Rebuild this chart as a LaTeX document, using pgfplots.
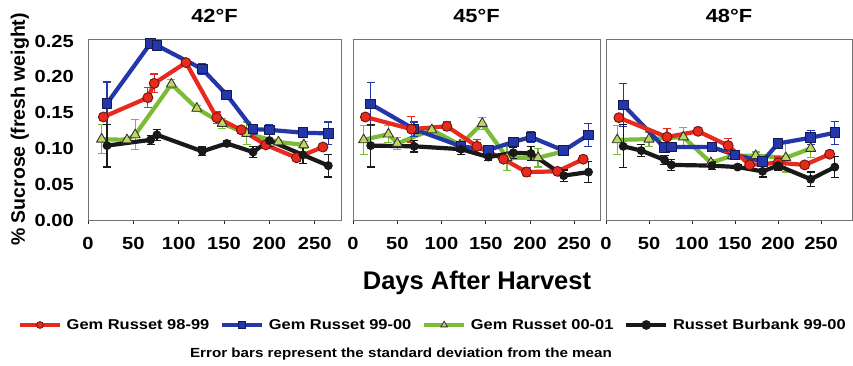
\documentclass[border=0pt]{standalone}
\usepackage{pgfplots}
\usepackage{pgfplotstable}
\pgfplotsset{compat=1.18}
\usepackage{fontspec}
\setmainfont{Liberation Sans}
\newfontfamily\wfont[FakeStretch=1.15]{Liberation Sans}

\definecolor{cRed}{RGB}{232,42,30}
\definecolor{cRedD}{RGB}{110,20,10}
\definecolor{cBlue}{RGB}{35,55,170}
\definecolor{cBlueD}{RGB}{20,25,80}
\definecolor{cGreen}{RGB}{122,188,52}
\definecolor{cGreenF}{RGB}{190,215,95}
\definecolor{cBlack}{RGB}{25,25,25}

% Panel 42F
\pgfplotstableread[row sep=\\]{x y e\\ 17 0.144 0.005\\ 66 0.171 0.014\\ 73 0.191 0.013\\ 108 0.220 0.004\\ 142 0.143 0.008\\ 169 0.126 0.005\\ 196 0.105 0.005\\ 230 0.087 0.005\\ 259 0.102 0.004\\}\aR
\pgfplotstableread[row sep=\\]{x y e\\ 21 0.163 0.030\\ 69 0.247 0.003\\ 76 0.244 0.003\\ 126 0.211 0.007\\ 153 0.175 0.004\\ 182 0.127 0.007\\ 200 0.126 0.007\\ 237 0.122 0.007\\ 265 0.121 0.016\\}\aB
\pgfplotstableread[row sep=\\]{x y e\\ 15 0.113 0.020\\ 43 0.112 0.003\\ 52 0.119 0.021\\ 92 0.190 0.006\\ 120 0.156 0.004\\ 148 0.135 0.007\\ 175 0.121 0.016\\ 210 0.109 0.004\\ 238 0.105 0.005\\}\aG
\pgfplotstableread[row sep=\\]{x y e\\ 21 0.104 0.030\\ 69 0.112 0.006\\ 76 0.119 0.008\\ 126 0.096 0.006\\ 153 0.107 0.004\\ 182 0.095 0.008\\ 200 0.111 0.008\\ 237 0.091 0.012\\ 265 0.076 0.016\\}\aK
% Panel 45F
\pgfplotstableread[row sep=\\]{x y e\\ 14 0.144 0.005\\ 66 0.127 0.018\\ 106 0.131 0.006\\ 140 0.103 0.010\\ 170 0.085 0.005\\ 196 0.067 0.006\\ 231 0.068 0.005\\ 260 0.085 0.005\\}\bR
\pgfplotstableread[row sep=\\]{x y e\\ 20 0.162 0.030\\ 69 0.127 0.010\\ 122 0.103 0.005\\ 153 0.098 0.005\\ 181 0.109 0.006\\ 201 0.116 0.008\\ 238 0.097 0.007\\ 266 0.119 0.016\\}\bB
\pgfplotstableread[row sep=\\]{x y e\\ 12 0.112 0.020\\ 40 0.120 0.012\\ 50 0.107 0.008\\ 89 0.126 0.005\\ 121 0.105 0.004\\ 146 0.135 0.008\\ 174 0.087 0.018\\ 209 0.087 0.013\\ 238 0.096 0.005\\}\bG
\pgfplotstableread[row sep=\\]{x y e\\ 20 0.104 0.030\\ 69 0.103 0.008\\ 122 0.099 0.008\\ 153 0.088 0.005\\ 181 0.094 0.008\\ 201 0.093 0.010\\ 238 0.062 0.008\\ 266 0.067 0.015\\}\bK
% Panel 48F
\pgfplotstableread[row sep=\\]{x y e\\ 15 0.143 0.005\\ 71 0.116 0.012\\ 107 0.124 0.005\\ 142 0.104 0.010\\ 167 0.077 0.005\\ 200 0.080 0.008\\ 231 0.077 0.005\\ 260 0.092 0.005\\}\cR
\pgfplotstableread[row sep=\\]{x y e\\ 20 0.161 0.030\\ 68 0.101 0.005\\ 76 0.102 0.005\\ 123 0.102 0.005\\ 150 0.091 0.004\\ 182 0.082 0.006\\ 200 0.107 0.006\\ 238 0.115 0.010\\ 266 0.122 0.016\\}\cB
\pgfplotstableread[row sep=\\]{x y e\\ 13 0.112 0.020\\ 50 0.113 0.010\\ 90 0.116 0.013\\ 122 0.080 0.004\\ 147 0.090 0.005\\ 174 0.090 0.005\\ 209 0.087 0.020\\ 238 0.100 0.013\\}\cG
\pgfplotstableread[row sep=\\]{x y e\\ 20 0.103 0.030\\ 41 0.097 0.008\\ 68 0.084 0.006\\ 76 0.077 0.008\\ 123 0.076 0.005\\ 153 0.074 0.003\\ 182 0.068 0.008\\ 200 0.076 0.006\\ 238 0.057 0.010\\ 266 0.074 0.015\\}\cK

\pgfplotsset{
  panel/.style={
    scale only axis, height=181pt, ymin=0, ymax=0.253, xmin=0,
    xtick={0,50,100,150,200,250},
    ytick={0,0.05,0.1,0.15,0.2,0.25},
    xtick pos=left, ytick pos=left,
    axis line style={draw=black!55, line width=0.7pt},
    xtick style={draw=black!85, line width=0.9pt},
    ytick style={draw=none},
    tick align=outside, major tick length=4pt,
    /pgf/number format/assume math mode=true,
    tick label style={font=\wfont\fontsize{17.5}{20}\selectfont\bfseries},
    xticklabel style={inner sep=0pt, anchor=north, yshift=-13pt},
    yticklabel style={inner sep=0pt, anchor=east, xshift=-10pt,
      /pgf/number format/.cd, fixed, fixed zerofill, precision=2},
    title style={font=\wfont\fontsize{19}{22}\selectfont\bfseries, at={(0.5,1)}, anchor=base, yshift=10pt},
    clip=false,
  },
  eb/.style={error bars/.cd, y dir=both, y explicit,
    error bar style={line width=1.2pt, #1},
    error mark options={rotate=90, mark size=4pt, line width=1.2pt, #1},
    /pgfplots/.cd},
  sR/.style={cRed, line width=4.2pt, line join=round, mark=*, mark size=5pt, mark options={fill=cRed, draw=cRedD, line width=0.9pt}},
  sB/.style={cBlue, line width=4.2pt, line join=round, mark=square*, mark size=4.8pt, mark options={fill=cBlue, draw=cBlueD, line width=0.9pt}},
  sG/.style={cGreen, line width=4.2pt, line join=round, mark=triangle*, mark size=5.8pt, mark options={fill=cGreenF, draw=black!80, line width=0.9pt}},
  sK/.style={cBlack, line width=4.2pt, line join=round, mark=*, mark size=4pt, mark options={fill=cBlack, draw=cBlack, line width=0.9pt}},
}

\begin{document}
\begin{tikzpicture}
\useasboundingbox (0pt,0pt) rectangle (853pt,366pt);

\begin{axis}[panel, at={(88pt,146pt)}, anchor=south west, width=253pt, xmax=279,
  title={42°F},
  ylabel={\% Sucrose (fresh weight)},
  ylabel style={font=\fontsize{19.5}{21}\selectfont\bfseries, at={(axis description cs:-0.2688,0.5)}, anchor=center},
  legend columns=4,
  legend image code/.code={\draw[mark repeat=2,mark phase=2] plot coordinates {(0pt,0pt) (20pt,0pt) (40pt,0pt)};},
  legend style={draw=none, fill=none, at={(rel axis cs:1.3636,-0.580)}, anchor=center,
    font=\wfont\fontsize{14.3}{18}\selectfont\bfseries,
    /tikz/every odd column/.append style={column sep=3pt},
    /tikz/every even column/.append style={column sep=9pt}},
]
\addlegendimage{cRed, line width=3.5pt, mark=*, mark size=3.4pt, mark options={fill=cRed, draw=cRedD, line width=0.8pt}}
\addlegendentry{Gem Russet 98-99}
\addlegendimage{cBlue, line width=3.5pt, mark=square*, mark size=3.2pt, mark options={fill=cBlue, draw=cBlueD, line width=0.8pt}}
\addlegendentry{Gem Russet 99-00}
\addlegendimage{cGreen, line width=3.5pt, mark=triangle*, mark size=3.8pt, mark options={fill=cGreenF, draw=black!80, line width=0.8pt}}
\addlegendentry{Gem Russet 00-01}
\addlegendimage{cBlack, line width=3.5pt, mark=*, mark size=3pt, mark options={fill=cBlack, draw=cBlack}}
\addlegendentry{Russet Burbank 99-00}
\addplot[forget plot, sG, eb=cGreen] table[x=x, y=y, y error=e] {\aG};
\addplot[forget plot, sB, eb=cBlue] table[x=x, y=y, y error=e] {\aB};
\addplot[forget plot, sR, eb=cRed] table[x=x, y=y, y error=e] {\aR};
\addplot[forget plot, sK, eb=cBlack] table[x=x, y=y, y error=e] {\aK};
\end{axis}

\begin{axis}[panel, at={(353pt,146pt)}, anchor=south west, width=247pt, xmax=279,
  title={45°F}, yticklabels={}]
\addplot[sG, eb=cGreen] table[x=x, y=y, y error=e] {\bG};
\addplot[sB, eb=cBlue] table[x=x, y=y, y error=e] {\bB};
\addplot[sR, eb=cRed] table[x=x, y=y, y error=e] {\bR};
\addplot[sK, eb=cBlack] table[x=x, y=y, y error=e] {\bK};
\end{axis}

\begin{axis}[panel, at={(606pt,146pt)}, anchor=south west, width=246pt, xmax=286,
  title={48°F}, yticklabels={}]
\addplot[sG, eb=cGreen] table[x=x, y=y, y error=e] {\cG};
\addplot[sB, eb=cBlue] table[x=x, y=y, y error=e] {\cB};
\addplot[sR, eb=cRed] table[x=x, y=y, y error=e] {\cR};
\addplot[sK, eb=cBlack] table[x=x, y=y, y error=e] {\cK};
\end{axis}

\node[font=\fontsize{25.5}{28}\selectfont\bfseries, anchor=base] at (477pt,76pt) {Days After Harvest};
\node[font=\wfont\fontsize{13.2}{15}\selectfont\bfseries] at (401pt,12pt) {Error bars represent the standard deviation from the mean};
\end{tikzpicture}
\end{document}
